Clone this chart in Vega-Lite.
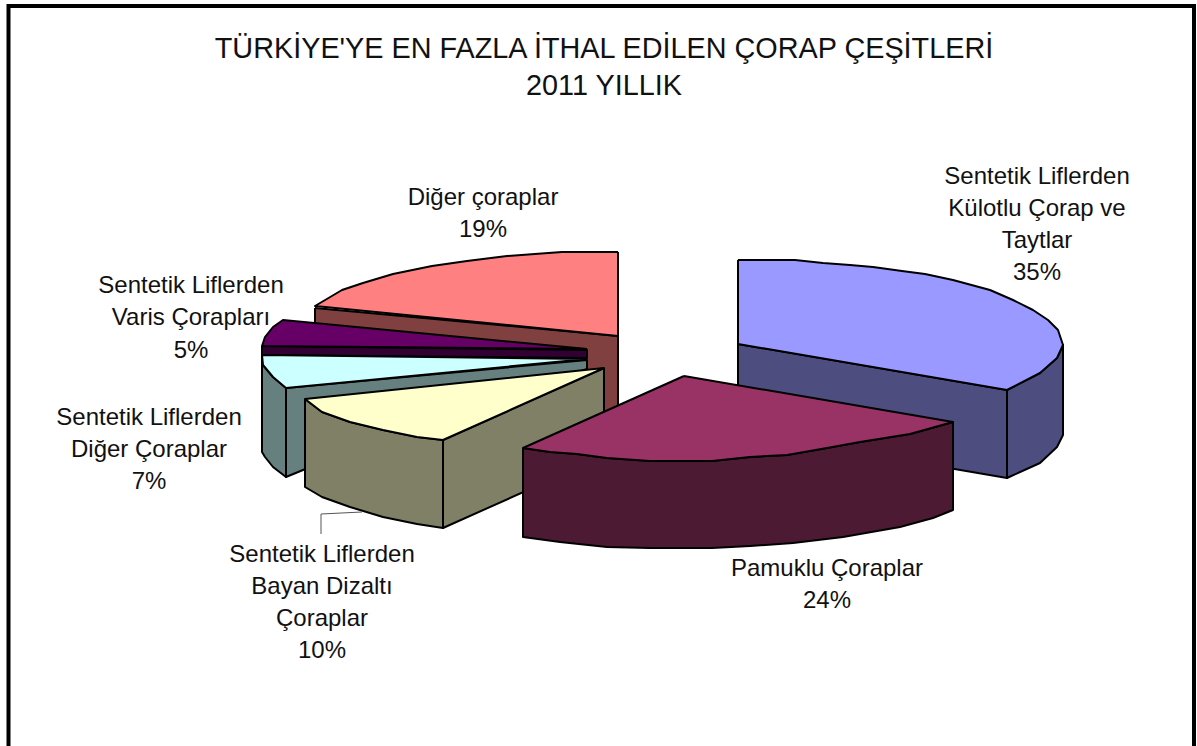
{"$schema":"https://vega.github.io/schema/vega-lite/v6.json","width":1197,"height":746,"padding":0,"autosize":{"type":"none"},"background":"white","config":{"view":{"stroke":null},"axis":{"disable":true}},
"datasets":{"shapes":[
{"part":"pink side","slice":"Diğer çoraplar","share":19,"n":1,"x":315,"y":308},{"part":"pink side","n":2,"x":618,"y":336},{"part":"pink side","n":3,"x":618,"y":420},{"part":"pink side","n":4,"x":315,"y":392},{"part":"pink side","n":5,"x":315,"y":308},
{"part":"pink top","slice":"Diğer çoraplar","share":19,"n":1,"x":618,"y":252},{"part":"pink top","n":2,"x":562,"y":252},{"part":"pink top","n":3,"x":507,"y":256},{"part":"pink top","n":4,"x":467,"y":261},{"part":"pink top","n":5,"x":432,"y":266},{"part":"pink top","n":6,"x":393,"y":274},{"part":"pink top","n":7,"x":363,"y":283},{"part":"pink top","n":8,"x":342,"y":290},{"part":"pink top","n":9,"x":315,"y":306},{"part":"pink top","n":10,"x":618,"y":336},{"part":"pink top","n":11,"x":618,"y":252},
{"part":"purple side","slice":"Varis Çorapları","share":5,"n":1,"x":262,"y":346},{"part":"purple side","n":2,"x":587,"y":350},{"part":"purple side","n":3,"x":587,"y":358},{"part":"purple side","n":4,"x":262,"y":355},{"part":"purple side","n":5,"x":262,"y":346},
{"part":"purple top","slice":"Varis Çorapları","share":5,"n":1,"x":587,"y":349},{"part":"purple top","n":2,"x":283,"y":320},{"part":"purple top","n":3,"x":273,"y":327},{"part":"purple top","n":4,"x":265,"y":337},{"part":"purple top","n":5,"x":262,"y":346},{"part":"purple top","n":6,"x":587,"y":349},
{"part":"cyan outer","slice":"Diğer Çoraplar","share":7,"n":1,"x":262,"y":355},{"part":"cyan outer","n":2,"x":263,"y":365},{"part":"cyan outer","n":3,"x":273,"y":377},{"part":"cyan outer","n":4,"x":286,"y":388},{"part":"cyan outer","n":5,"x":286,"y":477},{"part":"cyan outer","n":6,"x":273,"y":467},{"part":"cyan outer","n":7,"x":265,"y":457},{"part":"cyan outer","n":8,"x":262,"y":452},{"part":"cyan outer","n":9,"x":262,"y":355},
{"part":"cyan inner","slice":"Diğer Çoraplar","share":7,"n":1,"x":286,"y":388},{"part":"cyan inner","n":2,"x":587,"y":360},{"part":"cyan inner","n":3,"x":587,"y":369},{"part":"cyan inner","n":4,"x":400,"y":430},{"part":"cyan inner","n":5,"x":286,"y":477},{"part":"cyan inner","n":6,"x":286,"y":388},
{"part":"cyan top","slice":"Diğer Çoraplar","share":7,"n":1,"x":587,"y":359},{"part":"cyan top","n":2,"x":262,"y":355},{"part":"cyan top","n":3,"x":263,"y":365},{"part":"cyan top","n":4,"x":273,"y":377},{"part":"cyan top","n":5,"x":286,"y":388},{"part":"cyan top","n":6,"x":587,"y":359},
{"part":"yellow inner","slice":"Bayan Dizaltı Çoraplar","share":10,"n":1,"x":443,"y":440},{"part":"yellow inner","n":2,"x":604,"y":368},{"part":"yellow inner","n":3,"x":604,"y":456},{"part":"yellow inner","n":4,"x":443,"y":528},{"part":"yellow inner","n":5,"x":443,"y":440},
{"part":"yellow outer","slice":"Bayan Dizaltı Çoraplar","share":10,"n":1,"x":305,"y":399},{"part":"yellow outer","n":2,"x":322,"y":412},{"part":"yellow outer","n":3,"x":350,"y":422},{"part":"yellow outer","n":4,"x":383,"y":430},{"part":"yellow outer","n":5,"x":417,"y":437},{"part":"yellow outer","n":6,"x":443,"y":440},{"part":"yellow outer","n":7,"x":443,"y":528},{"part":"yellow outer","n":8,"x":417,"y":524},{"part":"yellow outer","n":9,"x":383,"y":517},{"part":"yellow outer","n":10,"x":350,"y":507},{"part":"yellow outer","n":11,"x":322,"y":497},{"part":"yellow outer","n":12,"x":305,"y":487},{"part":"yellow outer","n":13,"x":305,"y":399},
{"part":"yellow top","slice":"Bayan Dizaltı Çoraplar","share":10,"n":1,"x":604,"y":368},{"part":"yellow top","n":2,"x":305,"y":399},{"part":"yellow top","n":3,"x":322,"y":412},{"part":"yellow top","n":4,"x":350,"y":422},{"part":"yellow top","n":5,"x":383,"y":430},{"part":"yellow top","n":6,"x":417,"y":437},{"part":"yellow top","n":7,"x":443,"y":440},{"part":"yellow top","n":8,"x":604,"y":368},
{"part":"blue inner","slice":"Külotlu Çorap ve Taytlar","share":35,"n":1,"x":738,"y":344},{"part":"blue inner","n":2,"x":1007,"y":390},{"part":"blue inner","n":3,"x":1007,"y":478},{"part":"blue inner","n":4,"x":738,"y":432},{"part":"blue inner","n":5,"x":738,"y":344},
{"part":"blue outer","slice":"Külotlu Çorap ve Taytlar","share":35,"n":1,"x":1007,"y":390},{"part":"blue outer","n":2,"x":1040,"y":373},{"part":"blue outer","n":3,"x":1057,"y":358},{"part":"blue outer","n":4,"x":1063,"y":345},{"part":"blue outer","n":5,"x":1063,"y":435},{"part":"blue outer","n":6,"x":1057,"y":447},{"part":"blue outer","n":7,"x":1040,"y":463},{"part":"blue outer","n":8,"x":1007,"y":478},{"part":"blue outer","n":9,"x":1007,"y":390},
{"part":"blue top","slice":"Külotlu Çorap ve Taytlar","share":35,"n":1,"x":738,"y":260},{"part":"blue top","n":2,"x":795,"y":260},{"part":"blue top","n":3,"x":823,"y":263},{"part":"blue top","n":4,"x":850,"y":265},{"part":"blue top","n":5,"x":873,"y":267},{"part":"blue top","n":6,"x":902,"y":271},{"part":"blue top","n":7,"x":925,"y":274},{"part":"blue top","n":8,"x":953,"y":280},{"part":"blue top","n":9,"x":990,"y":290},{"part":"blue top","n":10,"x":1013,"y":300},{"part":"blue top","n":11,"x":1033,"y":310},{"part":"blue top","n":12,"x":1048,"y":320},{"part":"blue top","n":13,"x":1058,"y":330},{"part":"blue top","n":14,"x":1063,"y":345},{"part":"blue top","n":15,"x":1057,"y":358},{"part":"blue top","n":16,"x":1040,"y":373},{"part":"blue top","n":17,"x":1007,"y":390},{"part":"blue top","n":18,"x":738,"y":344},{"part":"blue top","n":19,"x":738,"y":260},
{"part":"maroon side","slice":"Pamuklu Çoraplar","share":24,"n":1,"x":523,"y":448},{"part":"maroon side","n":2,"x":550,"y":452},{"part":"maroon side","n":3,"x":577,"y":454},{"part":"maroon side","n":4,"x":607,"y":458},{"part":"maroon side","n":5,"x":650,"y":461},{"part":"maroon side","n":6,"x":712,"y":461},{"part":"maroon side","n":7,"x":750,"y":457},{"part":"maroon side","n":8,"x":787,"y":455},{"part":"maroon side","n":9,"x":827,"y":448},{"part":"maroon side","n":10,"x":860,"y":442},{"part":"maroon side","n":11,"x":910,"y":434},{"part":"maroon side","n":12,"x":953,"y":422},{"part":"maroon side","n":13,"x":953,"y":510},{"part":"maroon side","n":14,"x":933,"y":518},{"part":"maroon side","n":15,"x":900,"y":527},{"part":"maroon side","n":16,"x":843,"y":537},{"part":"maroon side","n":17,"x":793,"y":543},{"part":"maroon side","n":18,"x":750,"y":546},{"part":"maroon side","n":19,"x":712,"y":548},{"part":"maroon side","n":20,"x":650,"y":548},{"part":"maroon side","n":21,"x":607,"y":547},{"part":"maroon side","n":22,"x":560,"y":542},{"part":"maroon side","n":23,"x":523,"y":537},{"part":"maroon side","n":24,"x":523,"y":448},
{"part":"maroon top","slice":"Pamuklu Çoraplar","share":24,"n":1,"x":684,"y":376},{"part":"maroon top","n":2,"x":953,"y":422},{"part":"maroon top","n":3,"x":910,"y":434},{"part":"maroon top","n":4,"x":860,"y":442},{"part":"maroon top","n":5,"x":827,"y":448},{"part":"maroon top","n":6,"x":787,"y":455},{"part":"maroon top","n":7,"x":750,"y":457},{"part":"maroon top","n":8,"x":712,"y":461},{"part":"maroon top","n":9,"x":650,"y":461},{"part":"maroon top","n":10,"x":607,"y":458},{"part":"maroon top","n":11,"x":577,"y":454},{"part":"maroon top","n":12,"x":550,"y":452},{"part":"maroon top","n":13,"x":523,"y":448},{"part":"maroon top","n":14,"x":684,"y":376}
],
"leader":[{"n":1,"x":321,"y":534},{"n":2,"x":321,"y":514},{"n":3,"x":362,"y":512}],
"frame":[{"n":1,"x":8.5,"y":746},{"n":2,"x":8.5,"y":6},{"n":3,"x":1194,"y":6},{"n":4,"x":1194,"y":746}],
"labels":[
{"t":"Sentetik Liflerden","x":1037,"y":177},{"t":"Külotlu Çorap ve","x":1037,"y":209},{"t":"Taytlar","x":1037,"y":241},{"t":"35%","x":1037,"y":273},
{"t":"Diğer çoraplar","x":483,"y":198},{"t":"19%","x":483,"y":230},
{"t":"Sentetik Liflerden","x":191,"y":286},{"t":"Varis Çorapları","x":191,"y":318},{"t":"5%","x":191,"y":351},
{"t":"Sentetik Liflerden","x":149,"y":418},{"t":"Diğer Çoraplar","x":149,"y":450},{"t":"7%","x":149,"y":482},
{"t":"Sentetik Liflerden","x":322,"y":555},{"t":"Bayan Dizaltı","x":322,"y":587},{"t":"Çoraplar","x":322,"y":619},{"t":"10%","x":322,"y":651},
{"t":"Pamuklu Çoraplar","x":827,"y":569},{"t":"24%","x":827,"y":601}],
"titles":[{"t":"TÜRKİYE'YE EN FAZLA İTHAL EDİLEN ÇORAP ÇEŞİTLERİ","x":604,"y":49},{"t":"2011 YILLIK","x":604,"y":86}]},
"layer":[
{"data":{"name":"shapes"},"mark":{"type":"line","stroke":"black","strokeWidth":2,"strokeJoin":"round","clip":true},
"encoding":{"x":{"field":"x","type":"quantitative","scale":{"domain":[0,1197]},"axis":null},"y":{"field":"y","type":"quantitative","scale":{"domain":[746,0]},"axis":null},"order":{"field":"n","type":"quantitative"},
"fill":{"field":"part","type":"nominal","legend":null,"scale":{"domain":["pink side","pink top","purple side","purple top","cyan outer","cyan inner","cyan top","yellow inner","yellow outer","yellow top","blue inner","blue outer","blue top","maroon side","maroon top"],"range":["#804040","#FF8080","#330033","#660066","#668080","#668080","#CCFFFF","#808066","#808066","#FFFFCC","#4D4D80","#4D4D80","#9999FF","#4D1A33","#993366"]}}}},
{"data":{"name":"leader"},"mark":{"type":"line","stroke":"#555555","strokeWidth":1},"encoding":{"x":{"field":"x","type":"quantitative","scale":{"domain":[0,1197]},"axis":null},"y":{"field":"y","type":"quantitative","scale":{"domain":[746,0]},"axis":null},"order":{"field":"n","type":"quantitative"}}},
{"data":{"name":"frame"},"mark":{"type":"line","stroke":"black","strokeWidth":4,"strokeCap":"square"},"encoding":{"x":{"field":"x","type":"quantitative","scale":{"domain":[0,1197]},"axis":null},"y":{"field":"y","type":"quantitative","scale":{"domain":[746,0]},"axis":null},"order":{"field":"n","type":"quantitative"}}},
{"data":{"name":"labels"},"mark":{"type":"text","font":"Liberation Sans","fontSize":24,"align":"center","baseline":"middle","color":"#111111"},"encoding":{"x":{"field":"x","type":"quantitative","scale":{"domain":[0,1197]},"axis":null},"y":{"field":"y","type":"quantitative","scale":{"domain":[746,0]},"axis":null},"text":{"field":"t"}}},
{"data":{"name":"titles"},"mark":{"type":"text","font":"Liberation Sans","fontSize":28.8,"align":"center","baseline":"middle","color":"#111111"},"encoding":{"x":{"field":"x","type":"quantitative","scale":{"domain":[0,1197]},"axis":null},"y":{"field":"y","type":"quantitative","scale":{"domain":[746,0]},"axis":null},"text":{"field":"t"}}}
],"resolve":{"scale":{"fill":"independent"}}}
